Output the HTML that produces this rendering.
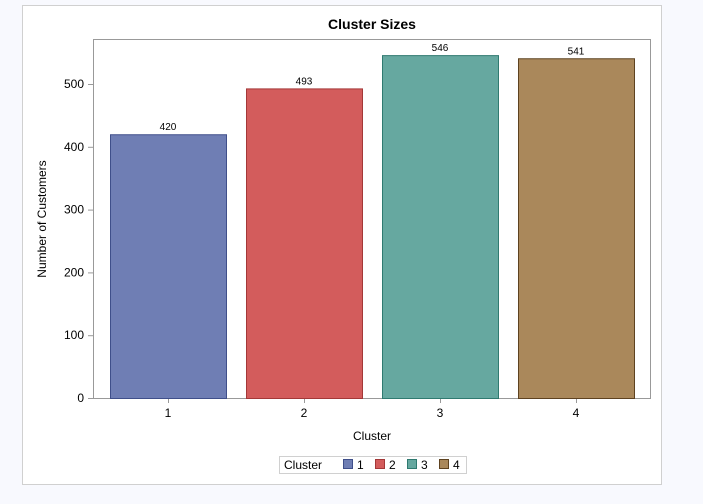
<!DOCTYPE html>
<html><head><meta charset="utf-8"><style>
body{margin:0;background:#f8f9fe;font-family:"Liberation Sans",sans-serif;}
svg{display:block}
text{font-family:"Liberation Sans",sans-serif;fill:#000}
</style></head><body>
<svg width="703" height="504">
<rect x="22.5" y="5.5" width="639" height="479" fill="#fff" stroke="#d0d0d0"/>
<text x="372" y="29" font-size="14" font-weight="bold" text-anchor="middle">Cluster Sizes</text>
<rect x="93.5" y="39.5" width="557" height="359" fill="none" stroke="#999"/>
<g id="yaxis"></g>
<g id="xaxis"></g>
<g id="bars"></g>
<text transform="translate(46,219) rotate(-90)" font-size="12" text-anchor="middle">Number of Customers</text>
<text x="372" y="440" font-size="12" text-anchor="middle">Cluster</text>
<g>
<rect x="279.5" y="456.5" width="187" height="17" fill="#fff" stroke="#d0d0d0"/>
<text x="284" y="469" font-size="12">Cluster</text>
<g id="legend"></g>
</g>
</svg>
<script>
const categories=["1","2","3","4"];
const values=[420,493,546,541];
const yTicks=[0,100,200,300,400,500];
const fills=["#6f7eb4","#d35c5c","#66a8a0","#aa885b"];
const strokes=["#3f4f8a","#a33838","#2f7a70","#5e4220"];
const NS="http://www.w3.org/2000/svg";
function y(v){return 398-v*0.628;}
function xc(i){return 168+136*i;}
function mk(tag,attrs,parent,txt){const e=document.createElementNS(NS,tag);for(const k in attrs)e.setAttribute(k,attrs[k]);if(txt!==undefined)e.textContent=txt;parent.appendChild(e);return e;}
const ya=document.getElementById('yaxis'),xa=document.getElementById('xaxis'),bg=document.getElementById('bars'),lg=document.getElementById('legend');
yTicks.forEach(t=>{
 const l=mk('line',{x1:88,x2:93,y1:y(t)+0.5,y2:y(t)+0.5,stroke:'#999'},ya);
 
 
 const tx=mk('text',{x:84,y:y(t)+4,'font-size':12,'text-anchor':'end'},ya,String(t));
 
 
});
categories.forEach((c,i)=>{
 const l=mk('line',{x1:xc(i)+0.5,x2:xc(i)+0.5,y1:398,y2:403,stroke:'#999'},xa);
 
 
 const tx=mk('text',{x:xc(i),y:417,'font-size':12,'text-anchor':'middle'},xa,c);
 
 
 const b=mk('rect',{x:xc(i)-58+0.5,y:y(values[i])+0.5,width:116,height:398-y(values[i]),fill:fills[i],stroke:strokes[i]},bg);
 
 
 const v=mk('text',{x:xc(i),y:y(values[i])-4,'font-size':10,'text-anchor':'middle'},bg,String(values[i]));
 
 
 const sw=mk('rect',{x:343.5+32*i,y:459.5,width:9,height:9,fill:fills[i],stroke:strokes[i]},lg);
 
 
 const lt=mk('text',{x:357+32*i,y:469,'font-size':12},lg,c);
 
 
});
</script>
</body></html>
